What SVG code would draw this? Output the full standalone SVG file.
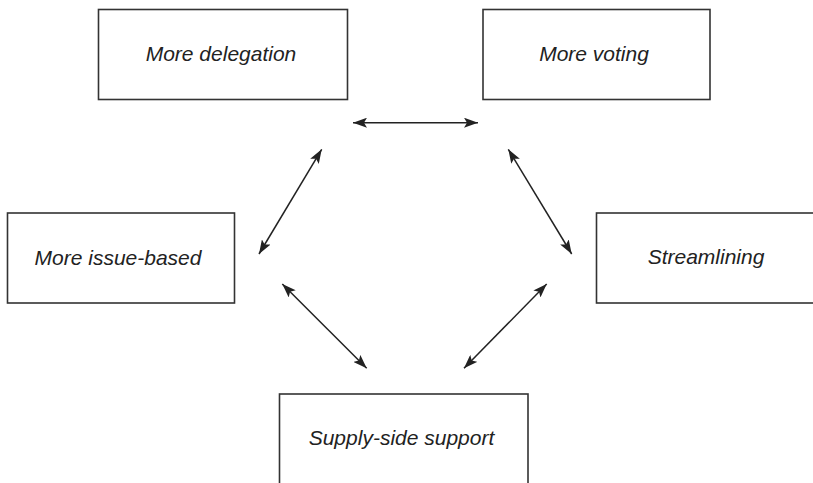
<svg xmlns="http://www.w3.org/2000/svg" width="813" height="483" viewBox="0 0 813 483">
<defs>
<style>
.box{fill:#fff;stroke:#333;stroke-width:1.6}
.lbl{font-family:"Liberation Sans",Arial,sans-serif;font-style:italic;font-size:21px;fill:#222;text-anchor:middle}
.con{stroke:#222;stroke-width:1.5;fill:none;marker-start:url(#ah);marker-end:url(#ah)}
</style>
<marker id="ah" viewBox="0 0 14 10" refX="14" refY="5" markerWidth="14" markerHeight="10" markerUnits="userSpaceOnUse" orient="auto-start-reverse">
<path d="M0,0 L14,5 L0,10 L3,5 Z" fill="#222"/>
</marker>
</defs>
<rect width="813" height="483" fill="#fff"/>
<g id="node-delegation">
<rect class="box" x="98.5" y="9.5" width="249" height="90"/>
<text class="lbl" x="221" y="61">More delegation</text>
</g>
<g id="node-voting">
<rect class="box" x="483" y="9.5" width="227" height="90"/>
<text class="lbl" x="594" y="61">More voting</text>
</g>
<g id="node-issue">
<rect class="box" x="7.5" y="213" width="227" height="90"/>
<text class="lbl" x="118" y="265">More issue-based</text>
</g>
<g id="node-streamlining">
<rect class="box" x="596.5" y="213" width="230" height="90"/>
<text class="lbl" x="706" y="264">Streamlining</text>
</g>
<g id="node-supply">
<rect class="box" x="279.5" y="394" width="248.5" height="100"/>
<text class="lbl" x="401.5" y="445">Supply-side support</text>
</g>
<g id="connectors">
<line class="con" x1="353" y1="122.7" x2="478" y2="122.7"/>
<line class="con" x1="321.7" y1="149.3" x2="259" y2="254"/>
<line class="con" x1="508.3" y1="149.3" x2="571.7" y2="254"/>
<line class="con" x1="282.3" y1="284" x2="366.7" y2="368.3"/>
<line class="con" x1="546.7" y1="284" x2="464" y2="368.3"/>
</g>
</svg>
